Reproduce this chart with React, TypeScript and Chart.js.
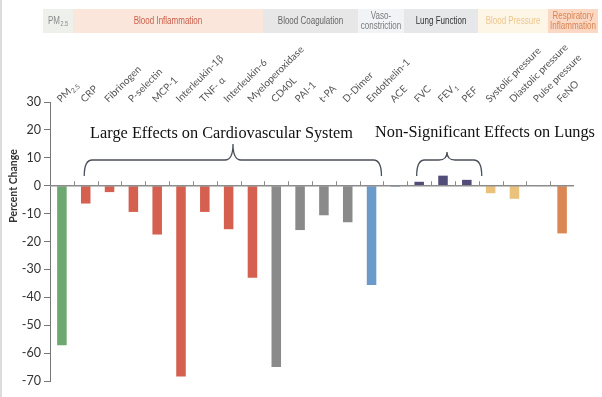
import React, { useEffect, useRef } from "react";
import { Chart, registerables } from "chart.js";

Chart.register(...registerables);

// ---------- data ----------
// "_" marks the start of a subscript
const categories: string[] = [
  "PM_2.5", "CRP", "Fibrinogen", "P-selectin", "MCP-1", "Interleukin-1β",
  "TNF- α", "Interleukin-6", "Myeloperoxidase", "CD40L", "PAI-1", "t-PA",
  "D-Dimer", "Endothelin-1", "ACE", "FVC", "FEV_1", "PEF",
  "Systolic pressure", "Diastolic pressure", "Pulse pressure", "FeNO",
];
const percentChange: number[] = [
  -57.2, -6.4, -2.3, -9.4, -17.5, -68.4,
  -9.4, -15.6, -33, -65, -15.9, -10.6,
  -13.1, -35.6, -0.4, 1.4, 3.6, 2.1,
  -2.7, -4.7, -0.2, -17.1,
];
// group of each category (index into groupNames)
const categoryGroup: number[] = [
  0, 1, 1, 1, 1, 1, 1, 1, 1, 2, 2, 2, 2, 3, 3, 4, 4, 4, 5, 5, 5, 6,
];
const groupNames: string[] = [
  "PM_2.5", "Blood Inflammation", "Blood Coagulation", "Vaso-\nconstriction",
  "Lung Function", "Blood Pressure", "Respiratory\nInflammation",
];
const yMin = -70;
const yMax = 30;
const yStep = 10;
const annotationLeft = "Large Effects on Cardiovascular System";
const annotationRight = "Non-Significant Effects on Lungs";
const yTitle = "Percent Change";

// ---------- styles ----------
const groupBarColors = ["#6ca870", "#d5604f", "#8a8a8a", "#6b9bc8", "#524c78", "#ebc27c", "#db8754"];
const groupBoxColors = ["#eef0ec", "#fbe6dc", "#e7e7e7", "#f1f3f6", "#e6e7e9", "#fdf5e6", "#fad8c3"];
const groupTextColors = ["#8a8a8a", "#c9604b", "#666666", "#7a7a7a", "#333333", "#f0c68c", "#d98453"];
// header box x-boundaries (layout)
const headerEdges = [43, 73, 263, 358, 404, 478, 548, 598];
const ACE_INDEX = 14;
const HEADER_FONT = "'Liberation Sans'";
const HEADER_SQUEEZE = 0.8;

// draw "base_sub" text with a subscript, starting at (0,0) baseline, left aligned
function drawSubText(ctx: CanvasRenderingContext2D, text: string, size: number, family: string, subDrop: number) {
  const [base, sub] = text.split("_");
  ctx.font = `${size}px ${family}`;
  ctx.fillText(base, 0, 0);
  if (sub) {
    const w = ctx.measureText(base).width;
    ctx.font = `${(size * 0.68).toFixed(2)}px ${family}`;
    ctx.fillText(sub, w + 0.5, subDrop);
  }
}
function measureSubText(ctx: CanvasRenderingContext2D, text: string, size: number, family: string) {
  const [base, sub] = text.split("_");
  ctx.font = `${size}px ${family}`;
  let w = ctx.measureText(base).width;
  if (sub) {
    ctx.font = `${(size * 0.68).toFixed(2)}px ${family}`;
    w += ctx.measureText(sub).width + 0.5;
  }
  return w;
}

const overlayPlugin = {
  id: "overlay",
  afterDatasetsDraw(chart: any) {
    const ctx: CanvasRenderingContext2D = chart.ctx;
    const xs = chart.scales.x;
    const ys = chart.scales.y;
    const ca = chart.chartArea;
    const y0 = ys.getPixelForValue(0);
    const px = (i: number) => xs.getPixelForValue(i);
    ctx.save();

    // zero line with tick marks between categories
    ctx.strokeStyle = "#8c8c8c";
    ctx.lineWidth = 1.5;
    ctx.beginPath();
    ctx.moveTo(ca.left, y0);
    ctx.lineTo(ca.right, y0);
    ctx.stroke();
    ctx.lineWidth = 1;
    for (let i = 1; i < categories.length; i++) {
      const bx = Math.round((px(i - 1) + px(i)) / 2) + 0.5;
      ctx.beginPath();
      ctx.moveTo(bx, y0);
      ctx.lineTo(bx, y0 - 4.5);
      ctx.stroke();
    }

    // rotated category labels above the plot
    ctx.fillStyle = "#555";
    ctx.textAlign = "left";
    ctx.textBaseline = "alphabetic";
    categories.forEach((label, i) => {
      ctx.save();
      ctx.translate(px(i) - 1, ca.top + 1);
      ctx.rotate(-Math.PI / 4);
      drawSubText(ctx, label, 10, "Lato", 2.5);
      ctx.restore();
    });

    // left page border
    ctx.fillStyle = "#dcdcdc";
    ctx.fillRect(0, 0, 2, chart.height);

    // header band
    const hTop = 9, hBot = 33;
    for (let g = 0; g < groupNames.length; g++) {
      const x1 = headerEdges[g], x2 = headerEdges[g + 1];
      ctx.fillStyle = groupBoxColors[g];
      ctx.fillRect(x1, hTop, x2 - x1, hBot - hTop);
      ctx.fillStyle = groupTextColors[g];
      ctx.textBaseline = "middle";
      const cx = (x1 + x2) / 2, cy = (hTop + hBot) / 2;
      const lines = groupNames[g].split("\n");
      const lh = 10.5;
      lines.forEach((ln, k) => {
        const w = measureSubText(ctx, ln, 10, HEADER_FONT) * HEADER_SQUEEZE;
        ctx.save();
        ctx.translate(cx - w / 2, cy + (k - (lines.length - 1) / 2) * lh);
        ctx.scale(HEADER_SQUEEZE, 1);
        ctx.textAlign = "left";
        drawSubText(ctx, ln, 10, HEADER_FONT, 3.5);
        ctx.restore();
      });
    }

    // braces
    const drawBrace = (x1: number, x2: number, xm: number, yBase: number, yTop: number, yPeak: number) => {
      const r = 8;
      ctx.strokeStyle = "#4a4f5a";
      ctx.lineWidth = 1.3;
      ctx.beginPath();
      ctx.moveTo(x1, yBase);
      ctx.quadraticCurveTo(x1, yTop, x1 + r, yTop);
      ctx.lineTo(xm - r, yTop);
      ctx.quadraticCurveTo(xm, yTop, xm, yPeak);
      ctx.quadraticCurveTo(xm, yTop, xm + r, yTop);
      ctx.lineTo(x2 - r, yTop);
      ctx.quadraticCurveTo(x2, yTop, x2, yBase);
      ctx.stroke();
    };
    const b1L = px(1) - 1.5;
    const b1R = (px(ACE_INDEX - 1) + px(ACE_INDEX)) / 2 - 2;
    drawBrace(b1L, b1R, 233, 176, 160, 144);
    const b2L = px(15) - 2.5;
    const b2R = (px(17) + px(18)) / 2 + 3;
    drawBrace(b2L, b2R, 447, 176, 160, 152);

    // annotation texts
    ctx.fillStyle = "#111";
    ctx.textAlign = "center";
    ctx.textBaseline = "alphabetic";
    const fitFont = (text: string, target: number) => {
      ctx.font = "17px 'Liberation Serif'";
      const w = ctx.measureText(text).width;
      const size = 17 * target / w;
      ctx.font = `${size.toFixed(2)}px 'Liberation Serif'`;
    };
    fitFont(annotationLeft, 263);
    ctx.fillText(annotationLeft, 221.5, 138);
    fitFont(annotationRight, 220);
    ctx.fillText(annotationRight, 485, 137);

    // y title
    ctx.save();
    ctx.translate(13.5, 186);
    ctx.rotate(-Math.PI / 2);
    ctx.fillStyle = "#333";
    ctx.font = "bold 10.5px Lato";
    ctx.textAlign = "center";
    ctx.textBaseline = "middle";
    ctx.fillText(yTitle, 0, 0);
    ctx.restore();

    ctx.restore();
  },
};

export default function App() {
  const ref = useRef<HTMLCanvasElement | null>(null);
  useEffect(() => {
    if (!ref.current) return;
    const chart = new Chart(ref.current, {
      type: "bar",
      data: {
        labels: categories,
        datasets: [
          {
            data: percentChange,
            backgroundColor: categoryGroup.map((g) => groupBarColors[g]),
            barPercentage: 0.4,
            categoryPercentage: 1.0,
          },
        ],
      },
      options: {
        animation: false,
        responsive: false,
        maintainAspectRatio: false,
        layout: { padding: { left: 0, right: 28, top: 0, bottom: 16 } },
        plugins: { legend: { display: false }, tooltip: { enabled: false } },
        scales: {
          x: {
            position: "top",
            grid: { display: false, drawTicks: false },
            border: { display: false },
            ticks: { display: false },
            afterFit: (s: any) => {
              s.height = 102;
            },
          },
          y: {
            min: yMin,
            max: yMax,
            ticks: {
              stepSize: yStep,
              color: "#333",
              padding: 3,
              font: { family: "Lato", size: 12.5 },
            },
            grid: { drawOnChartArea: false, tickLength: 6, color: "#777" },
            border: { color: "#777" },
            afterFit: (s: any) => {
              s.width = 50;
            },
          },
        },
      },
      plugins: [overlayPlugin],
    });
    return () => chart.destroy();
  }, []);
  return (
    <div style={{ position: "fixed", left: 0, top: 0, width: 602, height: 397, background: "#fff" }}>
      <canvas ref={ref} width={602} height={397} />
    </div>
  );
}
